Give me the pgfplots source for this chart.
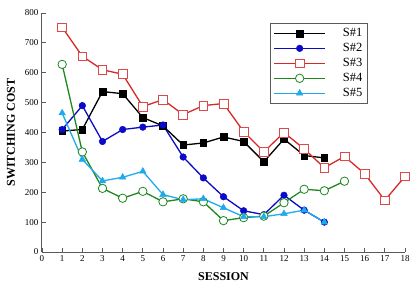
\documentclass[border=0pt]{standalone}
\usepackage{pgfplots}
\pgfplotsset{compat=1.18}
\usepackage{fontspec}
\setmainfont{Liberation Serif}
\definecolor{cblue}{RGB}{10,10,200}
\definecolor{cred}{RGB}{215,40,40}
\definecolor{cgreen}{RGB}{30,135,30}
\definecolor{ccyan}{RGB}{30,170,235}
\definecolor{axgray}{RGB}{90,90,90}
\begin{document}
\begin{tikzpicture}
\begin{axis}[
  scale only axis, width=363pt, height=239pt,
  xmin=0, xmax=18, ymin=0, ymax=800,
  axis x line*=bottom, axis y line*=left,
  axis line style={axgray, line width=1pt},
  xtick={0,...,18}, ytick={0,100,...,800},
  tick style={axgray, line width=0.8pt},
  tick align=inside, major tick length=4pt,
  ticklabel style={font=\fontsize{9}{10}\selectfont},
  /pgf/number format/assume math mode=true,
  xlabel={\textbf{SESSION}}, ylabel={\textbf{SWITCHING COST}},
  label style={font=\fontsize{12}{14}\selectfont},
  xlabel style={yshift=-4pt},
  ylabel style={yshift=3pt},
  legend style={at={(0.628,0.958)}, anchor=north west, draw=axgray, line width=0.9pt,
    font=\fontsize{12.5}{13}\selectfont, row sep=1.2pt, inner sep=3pt},
  legend cell align=left,
  legend image code/.code={\draw[mark repeat=2,mark phase=2,#1] plot coordinates {(0cm,0cm) (0.9cm,0cm) (1.8cm,0cm)};},
  every axis plot/.append style={line width=1.3pt},
]
\addplot[black, mark=square*, mark size=3.4pt, mark options={solid, line width=0.5pt}] coordinates {
(1,405)(2,410)(3,537)(4,530)(5,450)(6,422)(7,358)(8,365)(9,385)(10,370)(11,302)(12,378)(13,323)(14,315)};
\addlegendentry{\hspace{1.2em}S\#1}
\addplot[cblue, mark=*, mark size=3.3pt, mark options={solid, line width=0.5pt}] coordinates {
(1,410)(2,490)(3,370)(4,410)(5,418)(6,425)(7,318)(8,248)(9,185)(10,138)(11,125)(12,190)(13,140)(14,100)};
\addlegendentry{\hspace{1.2em}S\#2}
\addplot[cred, mark=square*, mark size=4.4pt, mark options={solid, fill=white, draw=cred!85, line width=0.8pt}] coordinates {
(1,752)(2,655)(3,610)(4,595)(5,487)(6,510)(7,460)(8,490)(9,497)(10,403)(11,335)(12,400)(13,345)(14,282)(15,320)(16,262)(17,173)(18,253)};
\addlegendentry{\hspace{1.2em}S\#3}
\addplot[cgreen, mark=*, mark size=4.2pt, mark options={solid, fill=white, line width=0.8pt}] coordinates {
(1,628)(2,335)(3,213)(4,180)(5,203)(6,168)(7,178)(8,168)(9,105)(10,115)(11,120)(12,165)(13,210)(14,205)(15,237)};
\addlegendentry{\hspace{1.2em}S\#4}
\addplot[ccyan, mark=triangle*, mark size=3.8pt, mark options={solid, line width=0.5pt}] coordinates {
(1,465)(2,310)(3,238)(4,250)(5,270)(6,192)(7,175)(8,178)(9,148)(10,118)(11,118)(12,128)(13,140)(14,100)};
\addlegendentry{\hspace{1.2em}S\#5}
\end{axis}
\useasboundingbox (-42pt,-46pt) rectangle (371pt,252pt);
\end{tikzpicture}
\end{document}
